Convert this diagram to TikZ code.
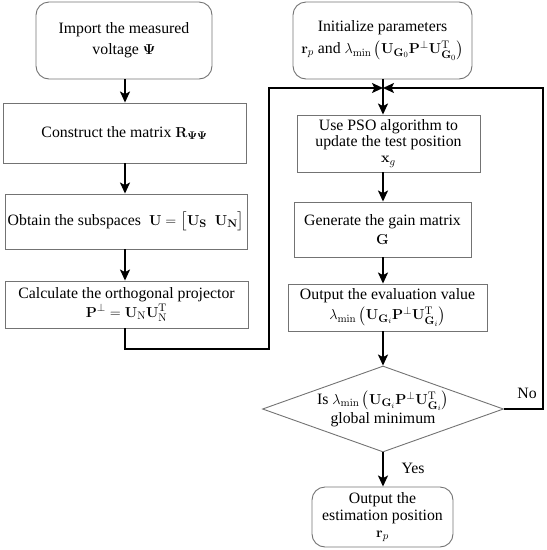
\documentclass[tikz,border=0pt]{standalone}
\usepackage{amsmath,amssymb}
\usepackage[no-math]{fontspec}
\setmainfont{Liberation Serif}
\usetikzlibrary{shapes.geometric,arrows.meta}
\begin{document}
\begin{tikzpicture}[x=1pt,y=-1pt,
  box/.style={draw=black!55, line width=0.9pt, align=center, inner sep=0pt,
    font=\fontsize{15.8}{19}\selectfont},
  rbox/.style={box, rounded corners=13pt},
  arr/.style={line width=1.6pt, -{Stealth[length=11pt,width=10pt,inset=2.5pt]}},
  lbl/.style={font=\fontsize{15.8}{19}\selectfont}]
\useasboundingbox (0,0) rectangle (547,550);
\coordinate (cL) at (125,0);
\coordinate (cR) at (383,0);
% left column
\node[rbox, minimum width=176pt, minimum height=77pt, font=\fontsize{15.8}{21}\selectfont] (b1) at (124,40.5)
  {Import the measured\\ voltage $\mathbf{\Psi}$};
\node[box, minimum width=243pt, minimum height=60pt] (b2) at (124.5,133)
  {Construct the matrix $\mathbf{R}_{\mathbf{\Psi\Psi}}$};
\node[box, minimum width=242pt, minimum height=55pt] (b3) at (126,221.5)
  {Obtain the subspaces \ $\mathbf{U}=\bigl[\mathbf{U}_{\mathbf{S}}\ \ \mathbf{U}_{\mathbf{N}}\bigr]$};
\node[box, minimum width=243pt, minimum height=47pt] (b4) at (126.5,304.5)
  {Calculate the orthogonal projector\\ $\mathbf{P}^{\perp}=\mathbf{U}_{\mathrm{N}}\mathbf{U}_{\mathrm{N}}^{\mathrm{T}}$};
% right column
\node[rbox, minimum width=179pt, minimum height=77pt, font=\fontsize{15.8}{21}\selectfont] (r1) at (382.5,40.5)
  {Initialize parameters\\[1pt] $\mathbf{r}_p$ and $\lambda_{\min}\left(\mathbf{U}_{\mathbf{G}_0}\mathbf{P}^{\perp}\mathbf{U}_{\mathbf{G}_0}^{\mathrm{T}}\right)$};
\node[box, minimum width=183pt, minimum height=57pt, font=\fontsize{15.8}{16}\selectfont] (b5) at (388.5,143.5)
  {Use PSO algorithm to\\ update the test position\\ $\mathbf{x}_g$};
\node[box, minimum width=177pt, minimum height=55pt] (b6) at (382.5,229.5)
  {Generate the gain matrix\\ $\mathbf{G}$};
\node[box, minimum width=199pt, minimum height=47pt] (b7) at (387.5,307.5)
  {Output the evaluation value\\[1pt] $\lambda_{\min}\left(\mathbf{U}_{\mathbf{G}_i}\mathbf{P}^{\perp}\mathbf{U}_{\mathbf{G}_i}^{\mathrm{T}}\right)$};
\node[diamond, draw=black!55, line width=0.9pt, minimum width=241pt, minimum height=86pt, inner sep=0pt] (d) at (383,409) {};
\node[lbl, align=center] (dt) at (d.center)
  {Is $\lambda_{\min}\left(\mathbf{U}_{\mathbf{G}_i}\mathbf{P}^{\perp}\mathbf{U}_{\mathbf{G}_i}^{\mathrm{T}}\right)$\\ global minimum};
\node[rbox, minimum width=141pt, minimum height=60pt, font=\fontsize{15.8}{17}\selectfont] (f) at (382.5,517)
  {Output the\\ estimation position\\ $\mathbf{r}_p$};
% connectors left
\draw[arr] (b1.south -| cL) -- (b2.north -| cL);
\draw[arr] (b2.south -| cL) -- (b3.north -| cL);
\draw[arr] (b3.south -| cL) -- (b4.north -| cL);
\coordinate (m) at (383,88);
\coordinate (l1) at (269,349);
\coordinate (rc) at (543,88);
\draw[arr] (b4.south -| cL) |- (l1) |- (m);
% connectors right
\draw[arr] (r1.south -| cR) -- (b5.north -| cR);
\draw[arr] (b5.south -| cR) -- (b6.north -| cR);
\draw[arr] (b6.south -| cR) -- (b7.north -| cR);
\draw[arr] (b7.south -| cR) -- (d.north);
\draw[arr] (d.south) -- (f.north -| cR);
\draw[arr] (d.east) -| (rc) -- (m);
\node[lbl] (no) at (527,393) {No};
\node[lbl] (yes) at (413,468) {Yes};
\end{tikzpicture}
\end{document}
